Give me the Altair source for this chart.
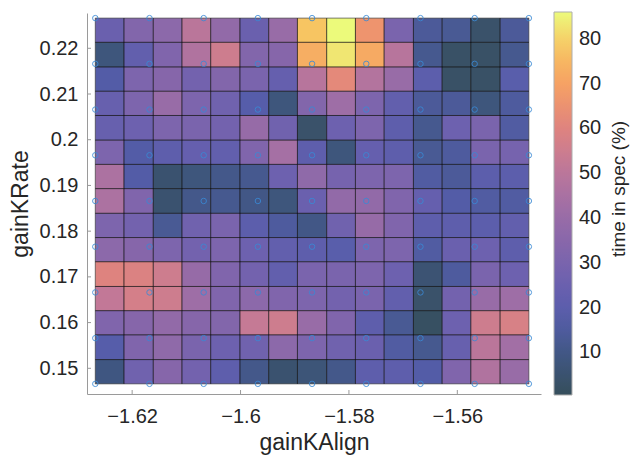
import altair as alt
import pandas as pd

# ---- data -------------------------------------------------------------
# cell edges (gainKAlign, gainKRate)
x_edges = [-1.6268, -1.6215, -1.6161, -1.6108, -1.6055, -1.6001, -1.5948, -1.5895,
           -1.5841, -1.5788, -1.5735, -1.5681, -1.5628, -1.5575, -1.5521, -1.5468]
y_edges = [0.1466, 0.1519, 0.1573, 0.1626, 0.1679, 0.1733, 0.1786, 0.1839,
           0.1893, 0.1946, 0.1999, 0.2053, 0.2106, 0.2159, 0.2213, 0.2266]

# time in spec (%), rows listed from top (high gainKRate) to bottom
time_in_spec = [
    [25, 33, 36, 50, 38, 25, 40, 78, 86, 66, 30, 14, 13, 4, 14],
    [8, 22, 32, 47, 55, 33, 34, 73, 83, 72, 49, 12, 3, 3, 12],
    [17, 31, 34, 28, 33, 30, 23, 49, 62, 48, 40, 20, 3, 3, 19],
    [24, 31, 40, 31, 27, 18, 8, 33, 42, 31, 22, 14, 14, 8, 15],
    [24, 26, 31, 30, 28, 39, 27, 4, 26, 31, 21, 12, 26, 30, 16],
    [31, 17, 21, 23, 22, 32, 44, 21, 8, 23, 21, 13, 15, 30, 29],
    [46, 17, 5, 8, 11, 12, 26, 37, 29, 31, 31, 16, 14, 20, 20],
    [46, 32, 5, 11, 12, 10, 8, 25, 38, 38, 32, 23, 17, 16, 16],
    [31, 28, 13, 27, 30, 20, 15, 10, 27, 39, 32, 21, 21, 20, 22],
    [36, 34, 31, 28, 31, 26, 22, 21, 19, 31, 31, 16, 25, 26, 21],
    [60, 59, 55, 39, 32, 28, 22, 30, 30, 31, 26, 6, 15, 30, 26],
    [52, 57, 55, 42, 32, 36, 32, 31, 28, 30, 22, 4, 28, 40, 42],
    [32, 34, 38, 34, 33, 53, 55, 40, 32, 21, 13, 2, 26, 55, 58],
    [18, 32, 37, 30, 26, 27, 36, 31, 27, 25, 16, 12, 24, 50, 43],
    [9, 27, 34, 28, 21, 11, 5, 7, 11, 21, 21, 17, 32, 47, 40],
]

# sample points (circles)
x_samples = [-1.6268, -1.6168, -1.6068, -1.5968, -1.5868, -1.5768, -1.5668, -1.5568, -1.5468]
y_samples = [0.1466, 0.1566, 0.1666, 0.1766, 0.1866, 0.1966, 0.2066, 0.2166, 0.2266]

x_ticks = [-1.62, -1.60, -1.58, -1.56]
y_ticks = [0.15, 0.16, 0.17, 0.18, 0.19, 0.20, 0.21, 0.22]
cbar_ticks = [10, 20, 30, 40, 50, 60, 70, 80]

x_domain = [-1.62833, -1.54456]
y_domain = [0.14438, 0.22772]

# thermal-like colormap stops
c_domain = [0.5, 9.05, 17.6, 26.15, 34.7, 43.25, 51.8, 60.35, 68.9, 77.45, 86.0]
c_range = ["#042333", "#102d62", "#2b3596", "#4a3a9c", "#6b4296", "#8c4c8f",
           "#b2577f", "#d9665f", "#f3853f", "#f7b23a", "#e8fa5b"]

# ---- tables -----------------------------------------------------------
n = len(time_in_spec)
cells = []
for i, row in enumerate(time_in_spec):
    for j, v in enumerate(row):
        cells.append({
            "x0": x_edges[j], "x1": x_edges[j + 1],
            "y0": y_edges[n - 1 - i], "y1": y_edges[n - i],
            "v": v,
        })
cells = pd.DataFrame(cells)
pts = pd.DataFrame([{"x": xs, "y": ys} for ys in y_samples for xs in x_samples])
xt = pd.DataFrame({"t": x_ticks})
yt = pd.DataFrame({"t": y_ticks})

FONT = "Liberation Sans"
TXT = "#262626"
AXC = "#9a9a9a"

xs = alt.Scale(domain=x_domain, nice=False, zero=False)
ys = alt.Scale(domain=y_domain, nice=False, zero=False)

axX = alt.Axis(values=x_ticks, format=".2~f", title="gainKAlign", grid=False,
               ticks=False, tickSize=0, labelPadding=12, domainColor=AXC,
               titleY=55, titleBaseline="alphabetic")
axY = alt.Axis(values=y_ticks, format=".2~f", title="gainKRate", grid=False,
               ticks=False, tickSize=0, labelPadding=9, domainColor=AXC,
               titleX=-60, titleY=190.5, titleBaseline="alphabetic")

rects = alt.Chart(cells).mark_rect(
    opacity=0.8, stroke="black", strokeWidth=0.8, strokeOpacity=0.8
).encode(
    x=alt.X("x0:Q", scale=xs, axis=axX, title="gainKAlign"),
    x2="x1:Q",
    y=alt.Y("y0:Q", scale=ys, axis=axY, title="gainKRate"),
    y2="y1:Q",
    color=alt.Color("v:Q", scale=alt.Scale(domain=c_domain, range=c_range, interpolate="rgb"),
                    legend=alt.Legend(
                        orient="none", legendX=467, legendY=-1, title=None,
                        direction="vertical", gradientLength=383, gradientThickness=18,
                        values=cbar_ticks, labelOffset=7, labelFontSize=20,
                        labelFont=FONT, labelColor=TXT, padding=0,
                        gradientStrokeColor=AXC, gradientStrokeWidth=1,
                        labelOverlap=False)),
)

circles = alt.Chart(pts).mark_point(
    shape="circle", filled=False, size=30, color="#3a8ad6", strokeWidth=1, opacity=0.85
).encode(
    x=alt.X("x:Q", scale=xs, axis=axX, title="gainKAlign"),
    y=alt.Y("y:Q", scale=ys, axis=axY, title="gainKRate"),
)

xtick_rules = alt.Chart(xt).mark_rule(color=AXC, strokeWidth=1).encode(
    x=alt.X("t:Q", scale=xs, axis=axX, title="gainKAlign"),
    y=alt.value(381), y2=alt.value(377),
)
ytick_rules = alt.Chart(yt).mark_rule(color=AXC, strokeWidth=1).encode(
    y=alt.Y("t:Q", scale=ys, axis=axY, title="gainKRate"),
    x=alt.value(0), x2=alt.value(4),
)

cbar_title = alt.Chart(pd.DataFrame({"s": ["time in spec (%)"]})).mark_text(
    angle=270, align="center", baseline="middle", fontSize=19, font=FONT, color=TXT
).encode(
    x=alt.value(532), y=alt.value(176), text="s:N",
)

chart = alt.layer(rects, circles, xtick_rules, ytick_rules, cbar_title).properties(
    width=454, height=381,
    autosize=alt.AutoSizeParams(type="none"),
    padding={"left": 87, "top": 13, "right": 89, "bottom": 66},
    background="white",
).configure_view(stroke=None).configure_axis(
    labelFont=FONT, titleFont=FONT, labelFontSize=20, titleFontSize=23,
    labelColor=TXT, titleColor=TXT, titleFontWeight="normal", domainWidth=1,
)

chart.save("out.html", embed_options={"renderer": "svg", "actions": False})
